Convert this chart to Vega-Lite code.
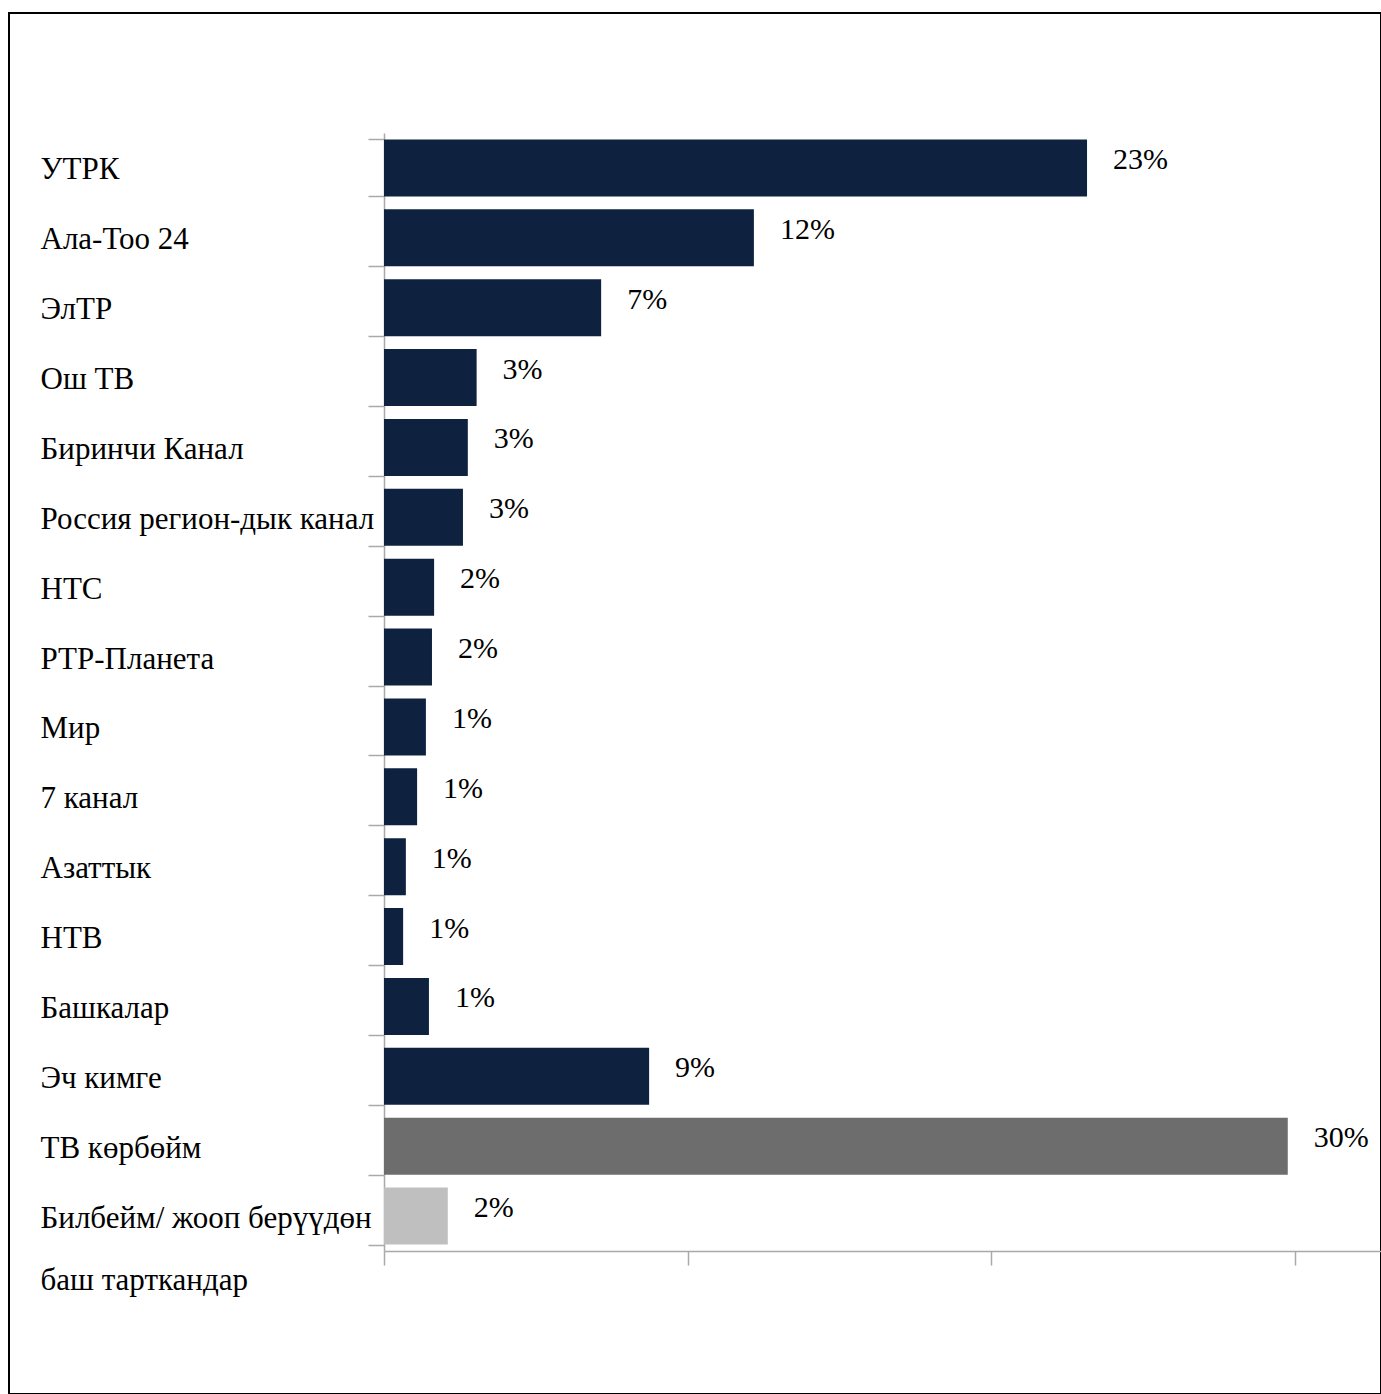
{
  "$schema": "https://vega.github.io/schema/vega-lite/v6.json",
  "width": 1372,
  "height": 1381,
  "autosize": {"type": "none"},
  "padding": {"left": 9, "top": 13, "right": 0, "bottom": 0},
  "background": "white",
  "config": {
    "view": {"stroke": "black", "strokeWidth": 2},
    "font": "Liberation Serif"
  },
  "data": {
    "values": [
      {"channel": "УТРК", "value": 23.15, "label": "23%", "kind": "tv"},
      {"channel": "Ала-Тоо 24", "value": 12.18, "label": "12%", "kind": "tv"},
      {"channel": "ЭлТР", "value": 7.15, "label": "7%", "kind": "tv"},
      {"channel": "Ош ТВ", "value": 3.05, "label": "3%", "kind": "tv"},
      {"channel": "Биринчи Канал", "value": 2.76, "label": "3%", "kind": "tv"},
      {"channel": "Россия регион-дык канал", "value": 2.6, "label": "3%", "kind": "tv"},
      {"channel": "НТС", "value": 1.65, "label": "2%", "kind": "tv"},
      {"channel": "РТР-Планета", "value": 1.58, "label": "2%", "kind": "tv"},
      {"channel": "Мир", "value": 1.38, "label": "1%", "kind": "tv"},
      {"channel": "7 канал", "value": 1.09, "label": "1%", "kind": "tv"},
      {"channel": "Азаттык", "value": 0.72, "label": "1%", "kind": "tv"},
      {"channel": "НТВ", "value": 0.63, "label": "1%", "kind": "tv"},
      {"channel": "Башкалар", "value": 1.48, "label": "1%", "kind": "tv"},
      {"channel": "Эч кимге", "value": 8.73, "label": "9%", "kind": "tv"},
      {"channel": "ТВ көрбөйм", "value": 29.76, "label": "30%", "kind": "notv"},
      {"channel": "Билбейм/ жооп берүүдөн\nбаш тарткандар", "value": 2.1, "label": "2%", "kind": "dk"}
    ]
  },
  "encoding": {
    "y": {
      "field": "channel",
      "type": "nominal",
      "sort": null,
      "scale": {"range": [120, 1238], "paddingInner": 0.184, "paddingOuter": 0.092},
      "axis": {
        "title": null,
        "orient": "left",
        "offset": -375,
        "domainColor": "#a9a9ad",
        "domainWidth": 1.5,
        "tickColor": "#a9a9ad",
        "tickWidth": 1.5,
        "tickSize": 16,
        "tickBand": "extent",
        "labelAlign": "left",
        "labelBaseline": "middle",
        "labelPadding": 328,
        "labelOffset": 2,
        "labelFont": "Liberation Serif",
        "labelFontSize": 31,
        "labelColor": "black",
        "labelLimit": 400,
        "labelOverlap": false,
        "labelLineHeight": 62,
        "labelExpr": "split(datum.label, '\\n')"
      }
    }
  },
  "layer": [
    {
      "mark": {"type": "bar"},
      "encoding": {
        "x": {
          "field": "value",
          "type": "quantitative",
          "scale": {"domain": [0, 32.83], "range": [375, 1372], "nice": false, "zero": true},
          "axis": {
            "title": null,
            "orient": "bottom",
            "offset": -143,
            "values": [0, 10, 20, 30],
            "labels": false,
            "grid": false,
            "tickSize": 14,
            "tickColor": "#a9a9ad",
            "tickWidth": 1.5,
            "domainColor": "#a9a9ad",
            "domainWidth": 1.5
          }
        },
        "color": {
          "field": "kind",
          "type": "nominal",
          "scale": {"domain": ["tv", "notv", "dk"], "range": ["#0e2240", "#6d6d6e", "#bfbfbf"]},
          "legend": null
        }
      }
    },
    {
      "mark": {"type": "text", "align": "left", "baseline": "middle", "dx": 26, "dy": -8, "fontSize": 30, "font": "Liberation Serif", "color": "black"},
      "encoding": {
        "x": {"field": "value", "type": "quantitative"},
        "text": {"field": "label"}
      }
    }
  ]
}
